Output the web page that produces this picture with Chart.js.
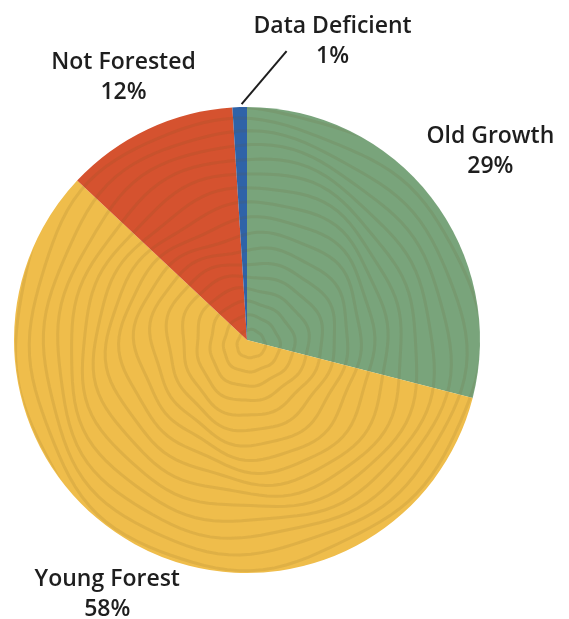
<!DOCTYPE html>
<html lang="en">
<head>
  <title>Forest cover</title>
  <meta charset="utf-8">
  <script src="https://cdn.jsdelivr.net/npm/chart.js@4.4.1/dist/chart.umd.min.js"></script>
  <style>
    html, body { margin: 0; padding: 0; background: #fff; }
    #wrap { width: 569px; height: 619px; }
  </style>
</head>
<body>
  <div id="wrap"><canvas id="pieChart" width="569" height="619"></canvas></div>
  <script>
    var categories = ["Old Growth", "Young Forest", "Not Forested", "Data Deficient"];
    var shares = [29, 58, 12, 1];
    var sliceColors = ["#79a47b", "#efbd4b", "#d5522f", "#2f63a8"];

    // wood ring texture laid over the pie
    var ringPlugin = {
      id: 'rings',
      afterDatasetsDraw: function(chart) {
        var arc = chart.getDatasetMeta(0).data[0];
        var cx = arc.x, cy = arc.y, R = arc.outerRadius;
        var ctx = chart.ctx;
        ctx.save();
        ctx.beginPath();
        ctx.arc(cx, cy, R - 1, 0, Math.PI * 2);
        ctx.clip();
        ctx.strokeStyle = 'rgba(110, 80, 30, 0.12)';
        ctx.lineWidth = 3;
        for (var k = 1; k * 14 < R + 20; k++) {
          var amp = Math.min(k, 8) * 0.55;
          ctx.beginPath();
          for (var s = 0; s <= 360; s += 3) {
            var t = s * Math.PI / 180;
            var r = k * 14 + amp * Math.sin(3 * t + k * 0.5) + amp * 0.5 * Math.sin(8 * t + k * 0.9);
            var px = cx + 4 + r * Math.cos(t);
            var py = cy + 4 + r * Math.sin(t);
            if (s === 0) ctx.moveTo(px, py); else ctx.lineTo(px, py);
          }
          ctx.closePath();
          ctx.stroke();
        }
        ctx.restore();
      }
    };

    // category name and percentage next to each slice
    var labelPlugin = {
      id: 'sliceLabels',
      afterDraw: function(chart) {
        var ctx = chart.ctx;
        var meta = chart.getDatasetMeta(0);
        ctx.save();
        ctx.fillStyle = '#1e1e1e';
        ctx.font = '600 23px "Open Sans"';
        ctx.textAlign = 'center';
        ctx.textBaseline = 'middle';
        meta.data.forEach(function(arc, i) {
          var mid = (arc.startAngle + arc.endAngle) / 2;
          var lx, ly;
          if (shares[i] < 3) {
            // tiny slice: leader line up and to the right
            var ex = arc.x + (arc.outerRadius + 3) * Math.cos(mid);
            var ey = arc.y + (arc.outerRadius + 3) * Math.sin(mid);
            ctx.strokeStyle = '#1e1e1e';
            ctx.lineWidth = 2;
            ctx.beginPath();
            ctx.moveTo(ex + 2, ey);
            ctx.lineTo(ex + 47, ey - 53);
            ctx.stroke();
            lx = ex + 93;
            ly = ey - 63;
          } else {
            var r = arc.outerRadius + (i === 0 ? 75 : 57);
            lx = arc.x + r * Math.cos(mid);
            ly = arc.y + r * Math.sin(mid);
          }
          ctx.fillText(categories[i], lx, ly - 15);
          ctx.fillText(shares[i] + '%', lx, ly + 15);
        });
        ctx.restore();
      }
    };

    var ctx = document.getElementById('pieChart').getContext('2d');
    var chart = new Chart(ctx, {
      type: 'pie',
      data: {
        labels: categories,
        datasets: [{
          data: shares,
          backgroundColor: sliceColors,
          borderWidth: 0
        }]
      },
      options: {
        responsive: false,
        animation: false,
        layout: { padding: { left: 14, right: 89, top: 107, bottom: 46 } },
        plugins: {
          legend: { display: false },
          tooltip: { enabled: false }
        }
      },
      plugins: [ringPlugin, labelPlugin]
    });
  </script>
</body>
</html>
